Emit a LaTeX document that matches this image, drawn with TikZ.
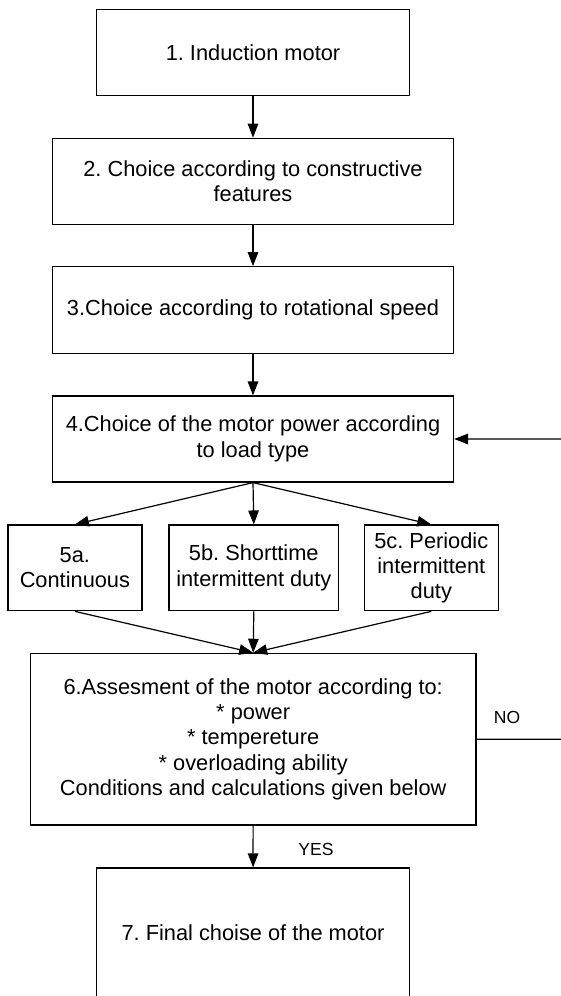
\documentclass[tikz,border=0pt]{standalone}
\usepackage{fontspec}
\setmainfont{Liberation Sans}
\usetikzlibrary{arrows.meta}
\frenchspacing

\begin{document}
\begin{tikzpicture}[x=1pt, y=-1pt,
    box/.style={draw, line width=1.2pt, align=center, inner sep=0pt,
      font=\fontsize{21.8}{25.3}\selectfont},
    flow/.style={line width=1.2pt, -{Triangle[length=14pt, width=10.5pt]}},
    lbl/.style={font=\fontsize{17.5}{20}\selectfont}]
  \useasboundingbox (0,0) rectangle (560,996);
  \node[box, minimum width=312.5pt, minimum height=86.4pt] (motor) at (253,52.5) {1. Induction motor};
  \node[box, minimum width=401pt, minimum height=86pt] (constr) at (253,181.3)
    {2. Choice according to constructive\\features};
  \node[box, minimum width=401pt, minimum height=86.6pt] (speed) at (253,310)
    {3.Choice according to rotational speed};
  \node[box, minimum width=401pt, minimum height=86pt] (power) at (253,439)
    {4.Choice of the motor power according\\to load type};
  \node[box, minimum width=134pt, minimum height=85.7pt] (cont) at (74.9,567.9) {5a.\\Continuous};
  \node[box, minimum width=169.6pt, minimum height=85.7pt] (short) at (253.8,567.9)
    {5b. Shorttime\\intermittent duty};
  \node[box, minimum width=134pt, minimum height=85.7pt] (period) at (431.3,567.9)
    {5c. Periodic\\intermittent\\duty};
  \node[box, minimum width=445.6pt, minimum height=171.7pt] (assess) at (253.2,739.2)
    {6.Assesment of the motor according to:\\* power\\* tempereture\\* overloading ability\\Conditions and calculations given below};
  \node[box, minimum width=312.5pt, minimum height=130pt] (final) at (253,933) {7. Final choise of the motor};
  \coordinate (turn) at (562,739.3);
  \node[lbl] (no) at (507,717) {NO};
  \node[lbl] (yes) at (316,849) {YES};

  \draw[flow] (motor) -- (constr);
  \draw[flow] (constr) -- (speed);
  \draw[flow] (speed) -- (power);
  \foreach \k in {cont, short, period} {
    \draw[flow] (power.south) -- (\k.north);
    \draw[flow] (\k.south) -- (assess.north);
  }
  \draw[flow] (assess.east) -- (turn) |- (power.east);
  \draw[flow] (assess) -- (final);
\end{tikzpicture}
\end{document}
